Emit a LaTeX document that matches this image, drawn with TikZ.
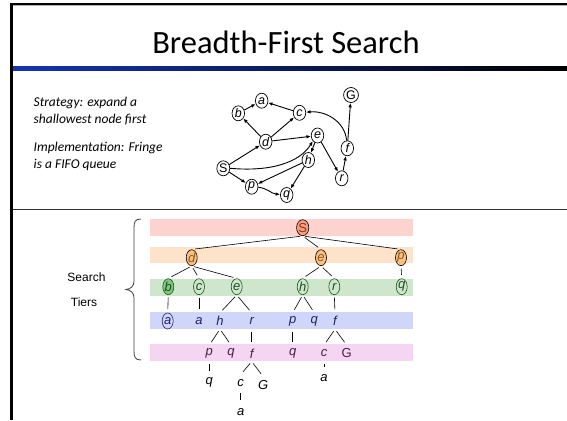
\documentclass[tikz,border=0pt]{standalone}
\usepackage{fontspec}
\setmainfont{Carlito}
\newfontfamily\arialf{Liberation Sans}
\usetikzlibrary{arrows.meta,shapes.geometric}
\definecolor{bandred}{HTML}{FDD3CF}
\definecolor{bandorange}{HTML}{FDE3C9}
\definecolor{bandgreen}{HTML}{CDE6CC}
\definecolor{bandblue}{HTML}{CFD6FA}
\definecolor{bandpink}{HTML}{F6D5F2}
\definecolor{sfill}{HTML}{F4A07E}
\definecolor{stext}{HTML}{9B2D1F}
\definecolor{ofill}{HTML}{F8C183}
\definecolor{otext}{HTML}{9A5510}
\definecolor{gfill}{HTML}{7FC77F}
\definecolor{gtext}{HTML}{1E4F1E}
\definecolor{btext}{HTML}{1F2266}
\definecolor{ptext}{HTML}{4A1F45}
\definecolor{titleblue}{HTML}{1434B4}
\begin{document}
\begin{tikzpicture}[x=1pt,y=-1pt,
  gnode/.style={ellipse,draw,line width=0.7pt,inner sep=0.4pt,minimum width=12.5pt,minimum height=15pt,font=\arialf\itshape\fontsize{12.5}{12.5}\selectfont},
  gup/.style={gnode,font=\arialf\fontsize{12.5}{12.5}\selectfont},
  garr/.style={line width=0.9pt,-{Latex[length=4.5pt,width=3.6pt]}},
  tnode/.style={inner sep=0pt,minimum height=16pt,minimum width=11pt,font=\arialf\itshape\fontsize{13}{13}\selectfont},
  tcirc/.style={tnode,ellipse,draw,line width=0.6pt},
  tedge/.style={line width=0.6pt,shorten <=2.5pt,shorten >=3.5pt},
  sidetext/.style={anchor=base west,inner sep=0pt,font=\itshape\fontsize{13.5}{16}\selectfont},
]
\useasboundingbox (0,0) rectangle (567,420);
\fill[white] (0,0) rectangle (567,420);

% frame
\draw[line width=2pt] (10,4) -- (567,4);
\draw[gray!60,line width=1pt] (10,6) -- (567,6);
\draw[line width=3pt] (11.5,3) -- (11.5,420);
\shade[left color=titleblue,right color=black] (13,66) rectangle (567,70);
\draw[gray!40!black,line width=0.9pt] (13,209) -- (567,209);

% title
\node[anchor=base,inner sep=0pt,font=\fontsize{32.5}{32.5}\selectfont] (title) at (286,53) {Breadth-First Search};

% side text
\node[sidetext] (st1) at (33.5,106) {Strategy: expand a};
\node[sidetext] (st2) at (33.5,123.5) {shallowest node first};
\node[sidetext] (st3) at (33.5,151.5) {Implementation: Fringe};
\node[sidetext] (st4) at (33.5,168) {is a FIFO queue};

% state graph
\node[gnode] (a) at (261.7,100.7) {a};
\node[gnode] (b) at (238.3,113.3) {b};
\node[gnode] (c) at (299.5,112.8) {c};
\node[gnode] (d) at (265.7,141.7) {d};
\node[gnode] (e) at (317.5,135.5) {e};
\node[gup]   (S) at (223.3,168.3) {S};
\node[gnode] (h) at (308.3,160) {h};
\node[gnode] (p) at (251.7,186.7) {p};
\node[gnode] (q) at (286.7,195) {q};
\node[gup]   (G) at (351,95) {G};
\node[gnode] (f) at (347.3,148.3) {f};
\node[gnode] (r) at (341.7,178.3) {r};

\draw[garr] (b) -- (a);
\draw[garr] (c) -- (a);
\draw[garr] (d) -- (b);
\draw[garr] (d) -- (c);
\draw[garr] (d) -- (e);
\draw[garr] (S) -- (d);
\draw[garr] (S.east) .. controls (272,172) and (300,162) .. (e.south west);
\draw[garr] (S) -- (p);
\draw[garr] (e) -- (h);
\draw[garr] (e) -- (r);
\draw[garr] (h) -- (p);
\draw[garr] (h) -- (q);
\draw[garr] (p) to[out=-5,in=175] (q);
\draw[garr] (r) -- (f);
\draw[garr] (f) to[out=95,in=5] (c);
\draw[garr] (f) -- (G);

% tier bands
\fill[bandred]    (150,219)   rectangle (412.7,235.7);
\fill[bandorange] (150,246.7) rectangle (412.7,263.3);
\fill[bandgreen]  (150,279)   rectangle (412.7,295.7);
\fill[bandblue]   (150,312)   rectangle (412.7,328.7);
\fill[bandpink]   (150,344)   rectangle (412.7,360.7);

% brace and label
\draw[line width=0.8pt,black!75] (141,219) .. controls (135,219) and (134,222) .. (134,228) -- (134,281)
  .. controls (134,286) and (131,289) .. (126,289.5) .. controls (131,290) and (134,293) .. (134,298)
  -- (134,351) .. controls (134,357) and (135,360) .. (141,360);
\node[font=\arialf\fontsize{12}{12}\selectfont] (lab1) at (86.5,277) {Search};
\node[font=\arialf\fontsize{12}{12}\selectfont] (lab2) at (84,302) {Tiers};

% search tree
\node[tcirc,fill=sfill,text=stext,font=\arialf\fontsize{13}{13}\selectfont] (t0S) at (302.7,227.7) {S};

\node[tcirc,fill=ofill,text=otext] (t1d) at (191.7,257.7) {d};
\node[tcirc,fill=ofill,text=otext] (t1e) at (321,257.7) {e};
\node[tcirc,fill=ofill,text=otext] (t1p) at (401,257.7) {p};

\node[tcirc,fill=gfill,text=gtext,draw=gtext] (t2b) at (168.3,286.7) {b};
\node[tcirc,text=gtext,draw=gtext] (t2c) at (199,286.7) {c};
\node[tcirc,text=gtext,draw=gtext] (t2e) at (236.7,286.7) {e};
\node[tcirc,text=gtext,draw=gtext] (t2h) at (302.7,286.7) {h};
\node[tcirc,text=gtext,draw=gtext] (t2r) at (334.3,286.7) {r};
\node[tcirc,text=gtext,draw=gtext] (t2q) at (401.7,286.7) {q};

\node[tcirc,text=btext,draw=btext] (t3a) at (167.7,321) {a};
\node[tnode,text=btext] (t3a2) at (199,321) {a};
\node[tnode,text=btext] (t3h) at (220,321) {h};
\node[tnode,text=btext] (t3r) at (251.7,321) {r};
\node[tnode,text=btext] (t3p) at (292.7,321) {p};
\node[tnode,text=btext] (t3q) at (314.3,321) {q};
\node[tnode,text=btext] (t3f) at (335,321) {f};

\node[tnode,text=ptext] (t4p) at (209.3,353.3) {p};
\node[tnode,text=ptext] (t4q) at (231,353.3) {q};
\node[tnode,text=ptext] (t4f) at (251.7,353.3) {f};
\node[tnode,text=ptext] (t4q2) at (292.7,353.3) {q};
\node[tnode,text=ptext] (t4c) at (324,353.3) {c};
\node[tnode,text=ptext,font=\arialf\fontsize{13}{13}\selectfont] (t4G) at (346.7,353.3) {G};

\node[tnode] (t5q) at (209.3,382.7) {q};
\node[tnode] (t5c) at (240.7,382.7) {c};
\node[tnode] (t5G) at (263.3,385) {G};
\node[tnode] (t5a) at (324,378.3) {a};

\node[tnode] (t6a) at (240.7,411.7) {a};

\draw[tedge] (t0S.south) -- (t1d.north);
\draw[tedge] (t0S.south) -- (t1e.north);
\draw[tedge] (t0S.south) -- (t1p.north);

\draw[tedge] (t1d.south) -- (t2b.north);
\draw[tedge] (t1d.south) -- (t2c.north);
\draw[tedge] (t1d.south) -- (t2e.north);
\draw[tedge] (t1e.south) -- (t2h.north);
\draw[tedge] (t1e.south) -- (t2r.north);
\draw[tedge] (t1p.south) -- (t2q.north);

\draw[tedge] (t2b.south) -- (t3a.north);
\draw[tedge] (t2c.south) -- (t3a2.north);
\draw[tedge] (t2e.south) -- (t3h.north);
\draw[tedge] (t2e.south) -- (t3r.north);
\draw[tedge] (t2h.south) -- (t3p.north);
\draw[tedge] (t2h.south) -- (t3q.north);
\draw[tedge] (t2r.south) -- (t3f.north);

\draw[tedge] (t3h.south) -- (t4p.north);
\draw[tedge] (t3h.south) -- (t4q.north);
\draw[tedge] (t3r.south) -- (t4f.north);
\draw[tedge] (t3p.south) -- (t4q2.north);
\draw[tedge] (t3f.south) -- (t4c.north);
\draw[tedge] (t3f.south) -- (t4G.north);

\draw[tedge] (t4p.south) -- (t5q.north);
\draw[tedge] (t4f.south) -- (t5c.north);
\draw[tedge] (t4f.south) -- (t5G.north);
\draw[tedge] (t4c.south) -- (t5a.north);

\draw[tedge] (t5c.south) -- (t6a.north);
\end{tikzpicture}
\end{document}
